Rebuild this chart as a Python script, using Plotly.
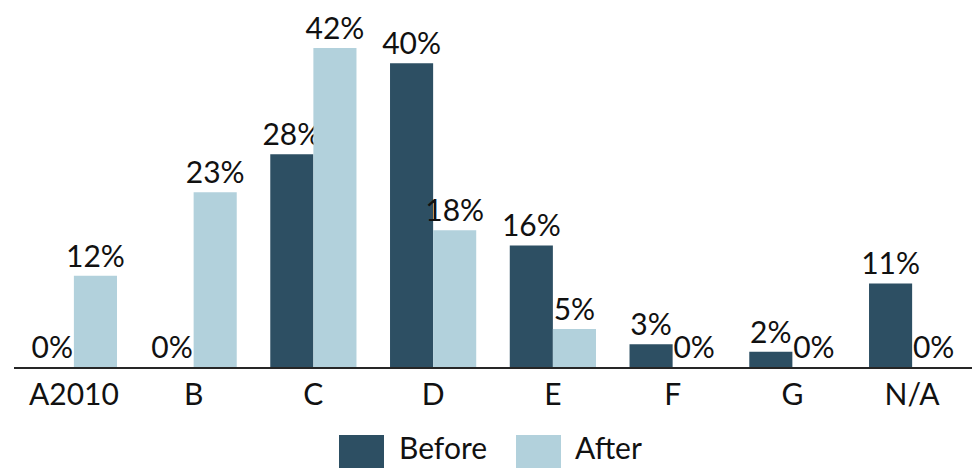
import plotly.graph_objects as go

categories = ["A2010", "B", "C", "D", "E", "F", "G", "N/A"]
before = [0, 0, 28, 40, 16, 3, 2, 11]
after = [12, 23, 42, 18, 5, 0, 0, 0]
series_names = ["Before", "After"]
series_colors = ["#2D4F63", "#B2D1DC"]

FONT = "Century Gothic, Lato, sans-serif"
W, H = 979, 468
ML, MR, MT, MB = 14, 7, 10, 101

fig = go.Figure()
for name, vals, color in zip(series_names, [before, after], series_colors):
    fig.add_trace(go.Bar(
        x=categories, y=vals, name=name, marker_color=color,
        marker_line_width=0,
        text=[f"{v}%" for v in vals], textposition="outside",
        constraintext="none",
        textfont=dict(family=FONT, size=30, color="#111111"),
        cliponaxis=False, showlegend=False,
    ))

# Custom legend: big square swatches with labels below the axis
pw = W - ML - MR
ph = H - MT - MB
def px_x(p):
    return (p - ML) / pw
def px_y(p):
    return (H - MB - p) / ph

legend_items = [(339, 397), (516, 573)]
for (sx, tx), name, color in zip(legend_items, series_names, series_colors):
    fig.add_shape(type="rect", xref="paper", yref="paper",
                  x0=px_x(sx), x1=px_x(sx + 45), y0=px_y(435), y1=px_y(475),
                  fillcolor=color, line_width=0)
    fig.add_annotation(xref="paper", yref="paper", x=px_x(tx), y=px_y(467),
                       xanchor="left", yanchor="bottom", text=name, showarrow=False,
                       font=dict(family=FONT, size=30, color="#111111"))

fig.update_layout(
    width=W, height=H,
    margin=dict(l=ML, r=MR, t=MT, b=MB),
    paper_bgcolor="white", plot_bgcolor="white",
    barmode="group", bargap=0.28, bargroupgap=0,
    font=dict(family=FONT, size=30, color="#111111"),
)
fig.update_xaxes(showline=True, linecolor="#262626", linewidth=2, ticks="",
                 tickfont=dict(family=FONT, size=30, color="#111111"),
                 showgrid=False)
fig.update_yaxes(range=[0, 47], visible=False, showgrid=False, zeroline=False)

fig.write_html("out.html")
